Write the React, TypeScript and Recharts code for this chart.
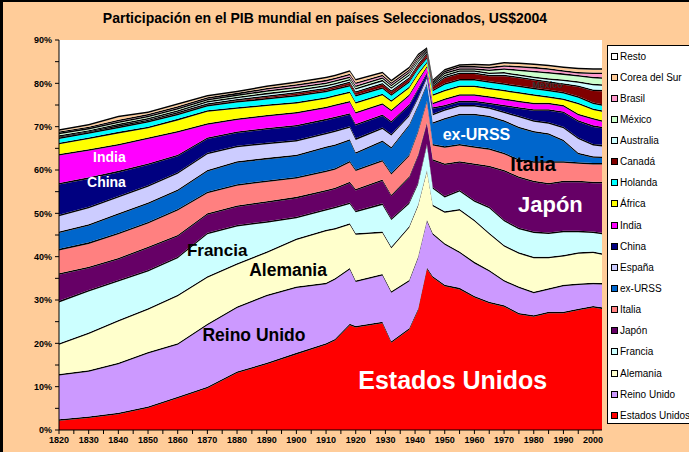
import React from 'react';
import { AreaChart, Area, XAxis, YAxis, CartesianGrid, ReferenceDot } from 'recharts';

// Participación en el PIB mundial (%)
const years = [1820, 1830, 1840, 1850, 1860, 1870, 1880, 1890, 1900, 1910, 1913, 1918, 1920, 1929, 1932, 1938, 1941, 1944, 1946, 1950, 1955, 1960, 1965, 1970, 1975, 1980, 1985, 1990, 1995, 2000, 2003];

const estadosUnidos = [2.5, 3.1, 4.0, 5.4, 7.7, 10.0, 13.5, 15.5, 17.8, 20.0, 21.0, 24.5, 24.0, 25.0, 20.5, 23.5, 28.0, 37.5, 35.5, 33.5, 32.8, 30.9, 29.6, 28.8, 27.0, 26.5, 27.3, 27.3, 28.0, 28.6, 28.3];
const reinoUnido = [10.4, 10.7, 11.5, 12.6, 12.3, 14.5, 15.0, 15.7, 15.3, 14.0, 14.0, 12.9, 10.5, 11.0, 11.5, 11.1, 12.0, 11.0, 9.9, 9.6, 8.4, 7.9, 7.3, 5.8, 6.1, 5.4, 5.4, 6.2, 5.8, 5.4, 5.6];
const alemania = [7.1, 8.7, 9.9, 10.1, 11.2, 11.0, 10.0, 10.0, 11.1, 12.2, 11.6, 10.3, 10.9, 9.8, 10.3, 12.4, 12.0, 11.5, 6.6, 7.4, 9.8, 9.7, 8.6, 8.1, 7.9, 8.1, 7.3, 6.9, 7.2, 7.2, 6.9];
const francia = [9.8, 9.8, 9.2, 8.8, 8.8, 10.0, 8.8, 7.0, 5.0, 4.8, 4.9, 4.8, 5.2, 6.5, 6.5, 5.5, 5.0, 6.0, 4.0, 3.5, 4.4, 4.5, 6.0, 5.8, 5.7, 5.8, 5.6, 5.6, 5.0, 4.6, 4.7];
const japon = [6.4, 5.4, 5.1, 5.4, 5.0, 4.5, 4.5, 4.6, 4.6, 4.4, 4.4, 4.8, 5.0, 5.5, 5.5, 6.0, 6.5, 5.0, 6.5, 7.5, 6.6, 8.5, 9.5, 11.5, 11.8, 11.7, 11.4, 11.5, 11.5, 11.5, 11.8];
const italia = [5.6, 5.6, 5.8, 5.7, 6.0, 5.0, 4.9, 4.8, 4.6, 4.5, 4.5, 4.8, 4.5, 4.5, 5.0, 5.0, 5.5, 5.0, 3.5, 4.0, 4.0, 4.0, 4.0, 4.0, 4.0, 4.5, 5.0, 4.5, 4.3, 4.3, 4.3];
const exUrss = [4.0, 4.2, 4.5, 4.5, 4.5, 5.0, 5.3, 5.2, 5.1, 5.5, 5.5, 5.0, 4.0, 4.5, 6.0, 7.0, 6.0, 4.0, 5.0, 6.5, 7.0, 7.5, 7.5, 7.5, 7.5, 7.0, 6.5, 5.0, 2.2, 1.6, 1.5];
const espana = [3.9, 4.0, 4.0, 4.0, 4.0, 4.0, 3.6, 3.5, 3.4, 3.2, 3.2, 3.0, 3.2, 3.0, 3.0, 2.2, 1.8, 1.5, 2.0, 2.0, 2.0, 2.0, 2.0, 2.0, 2.5, 2.5, 2.5, 3.0, 3.5, 2.8, 2.7];
const china = [7.3, 6.8, 5.8, 5.0, 4.0, 3.5, 3.3, 3.4, 3.5, 3.2, 3.2, 3.0, 3.3, 3.0, 3.0, 2.5, 2.0, 1.0, 1.5, 1.0, 1.0, 1.0, 1.0, 1.5, 2.0, 2.5, 3.0, 3.5, 4.0, 4.3, 4.2];
const india = [6.7, 6.5, 6.2, 6.0, 5.5, 3.3, 3.0, 3.0, 3.0, 2.8, 2.8, 2.8, 2.8, 2.6, 2.6, 2.2, 2.0, 1.5, 1.0, 1.5, 1.5, 1.5, 1.5, 1.5, 1.5, 1.5, 1.5, 1.5, 1.5, 1.7, 1.5];
const africa = [2.6, 2.7, 2.8, 2.5, 2.8, 3.0, 2.6, 2.4, 2.3, 2.2, 2.2, 2.2, 2.3, 2.2, 2.2, 1.8, 1.6, 1.0, 2.0, 2.0, 2.0, 2.0, 2.0, 2.0, 2.0, 2.0, 1.5, 1.5, 2.5, 2.2, 2.3];
const holanda = [1.2, 1.2, 1.2, 1.3, 1.2, 1.2, 1.4, 1.5, 1.6, 1.5, 1.5, 1.5, 1.6, 1.5, 1.4, 1.3, 1.2, 1.0, 1.0, 1.5, 1.5, 1.5, 1.5, 1.5, 1.5, 1.5, 1.5, 1.5, 1.5, 1.4, 1.4];
const canada = [0.2, 0.2, 0.3, 0.3, 0.4, 0.4, 0.5, 0.6, 0.7, 0.7, 0.7, 0.8, 0.9, 1.0, 0.9, 0.9, 1.0, 1.0, 1.0, 1.5, 1.5, 1.5, 1.5, 2.0, 2.0, 2.0, 2.0, 2.0, 2.5, 3.0, 3.3];
const australia = [0.3, 0.3, 0.4, 0.4, 0.4, 0.5, 0.5, 0.6, 0.6, 0.6, 0.6, 0.6, 0.7, 0.7, 0.7, 0.7, 0.6, 0.4, 0.4, 0.5, 0.5, 0.5, 0.5, 0.6, 0.6, 0.6, 0.7, 0.9, 1.0, 1.3, 1.3];
const mexico = [0.6, 0.5, 0.5, 0.5, 0.5, 0.5, 0.5, 0.6, 0.6, 0.6, 0.6, 0.6, 0.6, 0.6, 0.6, 0.6, 0.6, 0.3, 0.3, 0.5, 0.5, 0.5, 0.7, 0.9, 1.1, 1.3, 1.4, 1.4, 1.4, 1.6, 1.6];
const brasil = [0.3, 0.3, 0.4, 0.4, 0.4, 0.4, 0.4, 0.5, 0.6, 0.6, 0.6, 0.6, 0.7, 0.6, 0.5, 0.5, 0.5, 0.3, 0.3, 0.4, 0.5, 0.5, 0.6, 0.7, 0.8, 0.9, 0.9, 0.7, 0.7, 1.0, 1.1];
const coreaDelSur = [0.5, 0.6, 0.9, 0.6, 0.7, 0.5, 0.5, 0.6, 0.6, 0.7, 0.7, 0.8, 0.8, 0.7, 0.6, 0.6, 0.5, 0.3, 0.4, 0.4, 0.4, 0.5, 0.6, 0.7, 0.8, 0.8, 0.8, 0.9, 1.0, 1.0, 1.0];

const xTicks = [1820, 1825, 1830, 1835, 1840, 1845, 1850, 1855, 1860, 1865, 1870, 1875, 1880, 1885, 1890, 1895, 1900, 1905, 1910, 1915, 1920, 1925, 1930, 1935, 1940, 1945, 1950, 1955, 1960, 1965, 1970, 1975, 1980, 1985, 1990, 1995, 2000];
const yTicks = [0, 5, 10, 15, 20, 25, 30, 35, 40, 45, 50, 55, 60, 65, 70, 75, 80, 85, 90];

const series = [
  { key: 'eeuu', name: 'Estados Unidos', color: '#FF0000', values: estadosUnidos },
  { key: 'ru', name: 'Reino Unido', color: '#CC99FF', values: reinoUnido },
  { key: 'ale', name: 'Alemania', color: '#FFFFCC', values: alemania },
  { key: 'fra', name: 'Francia', color: '#CCFFFF', values: francia },
  { key: 'jap', name: 'Japón', color: '#660066', values: japon },
  { key: 'ita', name: 'Italia', color: '#FF8080', values: italia },
  { key: 'urss', name: 'ex-URSS', color: '#0066CC', values: exUrss },
  { key: 'esp', name: 'España', color: '#CCCCFF', values: espana },
  { key: 'chn', name: 'China', color: '#000080', values: china },
  { key: 'ind', name: 'India', color: '#FF00FF', values: india },
  { key: 'afr', name: 'África', color: '#FFFF00', values: africa },
  { key: 'hol', name: 'Holanda', color: '#00FFFF', values: holanda },
  { key: 'can', name: 'Canadá', color: '#800000', values: canada },
  { key: 'aus', name: 'Australia', color: '#CCFFFF', values: australia },
  { key: 'mex', name: 'México', color: '#CCFFCC', values: mexico },
  { key: 'bra', name: 'Brasil', color: '#FF99CC', values: brasil },
  { key: 'cor', name: 'Corea del Sur', color: '#FFCC99', values: coreaDelSur },
];

// "Resto" es el blanco que queda por encima de la pila
const leyenda = [{ name: 'Resto', color: '#FFFFFF' }, ...[...series].reverse()];

// etiquetas dentro del gráfico (año, %)
const etiquetas = [
  { text: 'India', year: 1837, pct: 63.0, color: '#FFFFFF', size: 14 },
  { text: 'China', year: 1836, pct: 57.3, color: '#FFFFFF', size: 14 },
  { text: 'Francia', year: 1873.3, pct: 41.5, color: '#000000', size: 17 },
  { text: 'Alemania', year: 1897.2, pct: 37.0, color: '#000000', size: 17.5 },
  { text: 'Reino Unido', year: 1885.7, pct: 22.0, color: '#000000', size: 17.5 },
  { text: 'Estados Unidos', year: 1952.7, pct: 11.5, color: '#FFFFFF', size: 25 },
  { text: 'ex-URSS', year: 1960.7, pct: 68.2, color: '#FFFFFF', size: 16 },
  { text: 'Italia', year: 1979.8, pct: 61.4, color: '#000000', size: 20 },
  { text: 'Japón', year: 1985.6, pct: 52.2, color: '#FFFFFF', size: 22 },
  { text: 'México', year: 1984.6, pct: 79.7, color: '#333333', size: 9 },
];

// grosor del borde negro de cada capa, en puntos porcentuales (~1.5 px)
const BORDE = 0.35;

// cada país se apila como su color y, encima, una franja negra fina que hace de borde
const capas = series.flatMap((s) => [
  { key: s.key, name: s.name, color: s.color },
  { key: `${s.key}Borde`, name: `${s.name} borde`, color: '#000000' },
]);

const data = years.map((year, i) => {
  const row: Record<string, number> = { year };
  series.forEach((s) => {
    const borde = Math.min(BORDE, s.values[i]);
    row[s.key] = s.values[i] - borde;
    row[`${s.key}Borde`] = borde;
  });
  return row;
});

const FONT = '"Liberation Sans", Arial, sans-serif';

const App: React.FC = () => {
  return (
    <div style={{ position: 'absolute', left: 0, top: 0, width: 689, height: 452, background: '#FFCC99', overflow: 'hidden', fontFamily: FONT }}>
      <div style={{ position: 'absolute', left: 0, top: 0, width: 689, height: 2, background: '#000' }} />
      <div style={{ position: 'absolute', left: 0, top: 0, width: 3, height: 452, background: '#000' }} />
      <div style={{ position: 'absolute', left: 0, top: 9, width: 650, textAlign: 'center', fontSize: 14, fontWeight: 'bold', lineHeight: '18px', whiteSpace: 'nowrap' }}>
        Participación en el PIB mundial en países Seleccionados, US$2004
      </div>
      <div style={{ position: 'absolute', left: 0, top: 0 }}>
        <AreaChart width={689} height={452} data={data} margin={{ top: 40, right: 87, bottom: 0, left: 0 }}>
          <CartesianGrid horizontal={false} vertical={false} fill="#FFFFFF" />
          <XAxis
            dataKey="year"
            type="number"
            domain={[1820, 2003]}
            ticks={xTicks}
            interval={0}
            height={22}
            tickSize={4}
            tickMargin={3}
            axisLine={{ stroke: '#000' }}
            tickLine={{ stroke: '#000' }}
            tick={{ fontSize: 9, fontWeight: 'bold', fill: '#000', fontFamily: FONT }}
            tickFormatter={(v: number) => (v % 10 === 0 ? String(v) : '')}
          />
          <YAxis
            type="number"
            domain={[0, 90]}
            ticks={yTicks}
            interval={0}
            width={59}
            tickSize={4}
            tickMargin={3}
            axisLine={{ stroke: '#000' }}
            tickLine={{ stroke: '#000' }}
            tick={{ fontSize: 9, fontWeight: 'bold', fill: '#000', fontFamily: FONT }}
            tickFormatter={(v: number) => (v % 10 === 0 ? `${v}%` : '')}
          />
          {capas.map((c) => (
            <Area
              key={c.key}
              type="linear"
              dataKey={c.key}
              name={c.name}
              stackId="pib"
              stroke="none"
              fill={c.color}
              fillOpacity={1}
              dot={false}
              activeDot={false}
              isAnimationActive={false}
            />
          ))}
          {etiquetas.map((e) => (
            <ReferenceDot
              key={e.text}
              x={e.year}
              y={e.pct}
              r={0}
              fill="none"
              stroke="none"
              label={{ value: e.text, position: 'center', fill: e.color, fontSize: e.size, fontWeight: 'bold', fontFamily: FONT }}
            />
          ))}
        </AreaChart>
      </div>
      <div style={{ position: 'absolute', left: 607, top: 45, width: 100, height: 379, background: '#fff', border: '1px solid #000', boxSizing: 'border-box' }}>
        {leyenda.map((s, i) => (
          <div key={s.name} style={{ position: 'absolute', left: 3, top: 4 + i * 21.14, height: 12, display: 'flex', alignItems: 'center', whiteSpace: 'nowrap' }}>
            <span style={{ display: 'inline-block', width: 5, height: 5, border: '1px solid #000', background: s.color }} />
            <span style={{ marginLeft: 2, fontSize: 10, color: '#000' }}>{s.name}</span>
          </div>
        ))}
      </div>
    </div>
  );
};

export default App;
